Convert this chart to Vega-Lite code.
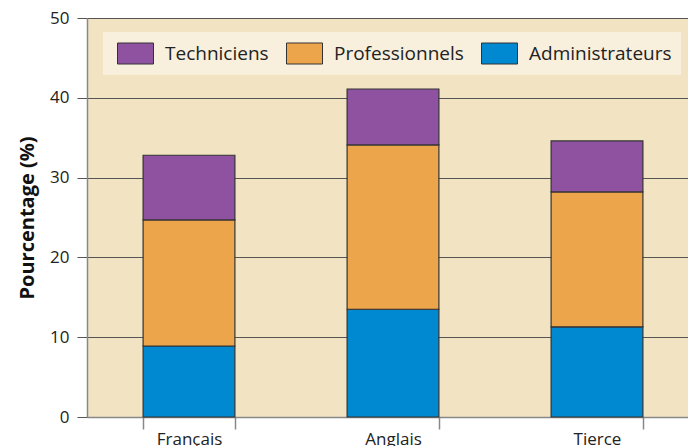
{
  "$schema": "https://vega.github.io/schema/vega-lite/v6.json",
  "autosize": {"type": "none"},
  "padding": {"left": 87, "top": 18, "right": 0, "bottom": 29},
  "width": 612,
  "height": 399,
  "background": "white",
  "config": {
    "font": "Open Sans",
    "view": {"fill": "#f2e4c3", "stroke": null},
    "axis": {"labelFont": "Open Sans", "titleFont": "Open Sans", "labelColor": "#222", "titleColor": "#111"}
  },
  "data": {
    "values": [
      {"langue": "Français", "cat": "Administrateurs", "v": 8.9},
      {"langue": "Français", "cat": "Professionnels", "v": 15.8},
      {"langue": "Français", "cat": "Techniciens", "v": 8.1},
      {"langue": "Anglais", "cat": "Administrateurs", "v": 13.5},
      {"langue": "Anglais", "cat": "Professionnels", "v": 20.6},
      {"langue": "Anglais", "cat": "Techniciens", "v": 7.0},
      {"langue": "Tierce", "cat": "Administrateurs", "v": 11.3},
      {"langue": "Tierce", "cat": "Professionnels", "v": 16.9},
      {"langue": "Tierce", "cat": "Techniciens", "v": 6.4}
    ]
  },
  "transform": [
    {"calculate": "datum.cat === 'Administrateurs' ? 0 : datum.cat === 'Professionnels' ? 1 : 2", "as": "ord"}
  ],
  "mark": {"type": "bar", "stroke": "#333", "strokeWidth": 1.2},
  "encoding": {
    "x": {
      "field": "langue", "type": "nominal", "sort": ["Français", "Anglais", "Tierce"],
      "scale": {"paddingInner": 0.55, "paddingOuter": 0.275},
      "axis": {"title": null, "labelAngle": 0, "labelFontSize": 17, "labelPadding": 2, "tickBand": "extent", "tickSize": 12, "tickWidth": 1.5, "tickColor": "#888", "domainColor": "#888", "domainWidth": 1.5, "grid": false}
    },
    "y": {
      "field": "v", "type": "quantitative", "stack": "zero",
      "scale": {"domain": [0, 50]},
      "axis": {"title": "Pourcentage (%)", "titleFontSize": 20, "titleFontWeight": "bold", "titlePadding": 12, "values": [0, 10, 20, 30, 40, 50], "labelFontSize": 17, "tickSize": 10, "tickColor": "#555", "domainColor": "#888", "domainWidth": 1.5, "gridColor": "#555", "gridOpacity": 1, "labelPadding": 8}
    },
    "color": {
      "field": "cat", "type": "nominal",
      "scale": {"domain": ["Techniciens", "Professionnels", "Administrateurs"], "range": ["#8e52a1", "#eda54b", "#0088d1"]},
      "legend": {
        "title": null, "orient": "none", "legendX": 16, "legendY": 14, "direction": "horizontal",
        "fillColor": "#f8efdd", "padding": 9, "symbolType": "M-1.5,-0.875H1.5V0.875H-1.5Z", "symbolSize": 576,
        "symbolStrokeColor": "#333", "symbolStrokeWidth": 1, "symbolOpacity": 1, "labelFontSize": 19, "labelColor": "#222", "columnPadding": 12, "labelOffset": 17, "symbolOffset": 11
      }
    },
    "order": {"field": "ord", "type": "quantitative"}
  }
}
